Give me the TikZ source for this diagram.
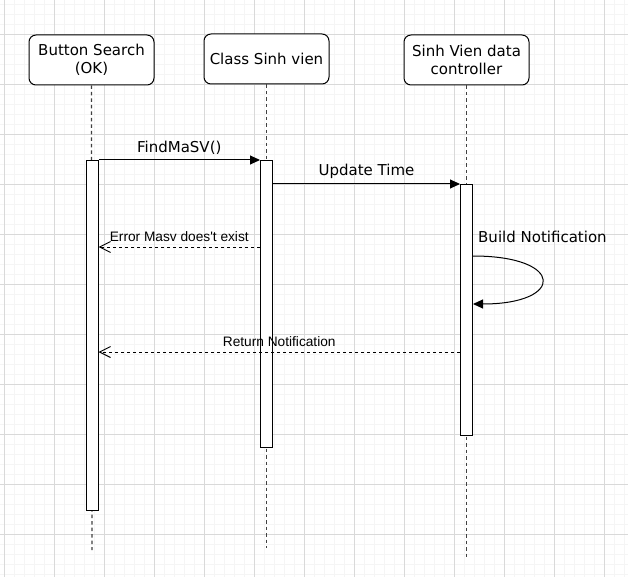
\documentclass[tikz,border=0pt]{standalone}
\usepackage{fontspec}
\setmainfont{DejaVu Sans}
\newfontfamily\labelfont{Liberation Sans}
\usetikzlibrary{arrows.meta,positioning}

\tikzset{
  gridminor/.style={line width=0.6pt, color=black!4},
  gridmajor/.style={line width=0.8pt, color=black!15},
  actor/.style={draw, line width=1pt, rounded corners=7pt, fill=white,
    minimum width=125pt, minimum height=50pt, align=center, inner sep=0pt,
    font=\fontsize{15}{17.5}\selectfont},
  life/.style={line width=1.2pt, color=black!75, dash pattern=on 3.5pt off 3pt},
  bar/.style={draw, line width=1pt, fill=white, minimum width=12pt,
    inner sep=0pt, anchor=north},
  msg/.style={line width=1pt, -{Triangle[length=10pt,width=9pt]}},
  ret/.style={line width=1pt, dash pattern=on 3pt off 3pt,
    -{Straight Barb[length=11pt,width=11pt]}},
  msglabel/.style={font=\fontsize{15}{17}\selectfont, inner sep=0pt},
  retlabel/.style={font=\labelfont\fontsize{13.7}{16}\selectfont, inner sep=0pt}
}

\begin{document}
\begin{tikzpicture}[x=1pt, y=-1pt]
  %%%%% background grid %%%%%
  \useasboundingbox[fill=white] (0,0) rectangle (628,577);
  \foreach \gx in {4,14,...,624} \draw[gridminor] (\gx,0) -- (\gx,577);
  \foreach \gy in {4,14,...,574} \draw[gridminor] (0,\gy) -- (628,\gy);
  \foreach \gx in {4,54,...,604} \draw[gridmajor] (\gx,0) -- (\gx,577);
  \foreach \gy in {34,84,...,534} \draw[gridmajor] (0,\gy) -- (628,\gy);

  %%%%% lifelines %%%%%
  \node[actor] (btn) at (91.5,60) {Button Search\\(OK)};
  \node[actor] (cls) at (266.5,59) {Class Sinh vien};
  \node[actor] (ctrl) at (466.5,60) {Sinh Vien data\\controller};

  \coordinate (end1) at (92,550);
  \coordinate (end2) at (266.5,548);
  \coordinate (end3) at (466.5,559);

  \draw[life] (btn.south) -- (end1);
  \draw[life] (cls.south) -- (end2);
  \draw[life] (ctrl.south) -- (end3);

  %%%%% activations %%%%%
  \node[bar, minimum height=350pt] (bar1) at (92,160) {};
  \node[bar, minimum height=287pt] (bar2) at (266.5,160) {};
  \node[bar, minimum height=251pt] (bar3) at (466.5,184) {};

  \coordinate (err) at (266.5,247);
  \coordinate (back) at (466.5,352);
  \coordinate (loopin) at (466.5,256);
  \coordinate (loopout) at (466.5,304);

  %%%%% messages %%%%%
  \draw[msg] (bar1.north east) -- (bar2.north west)
    node[msglabel, midway, above=5pt] {FindMaSV()};
  \draw[msg] (bar2.east |- bar3.north) -- (bar3.north west)
    node[msglabel, midway, above=5pt] {Update Time};
  \draw[ret] (bar2.west |- err) -- (bar1.east |- err)
    node[retlabel, midway, above=5pt] {Error Masv does't exist};
  \draw[msg] (bar3.east |- loopin) .. controls (565,256) and (565,304) .. (bar3.east |- loopout);
  \node[msglabel, anchor=west] (build) at (478,237) {Build Notification};
  \draw[ret] (bar3.west |- back) -- (bar1.east |- back)
    node[retlabel, midway, above=5pt] {Return Notification};
\end{tikzpicture}
\end{document}
